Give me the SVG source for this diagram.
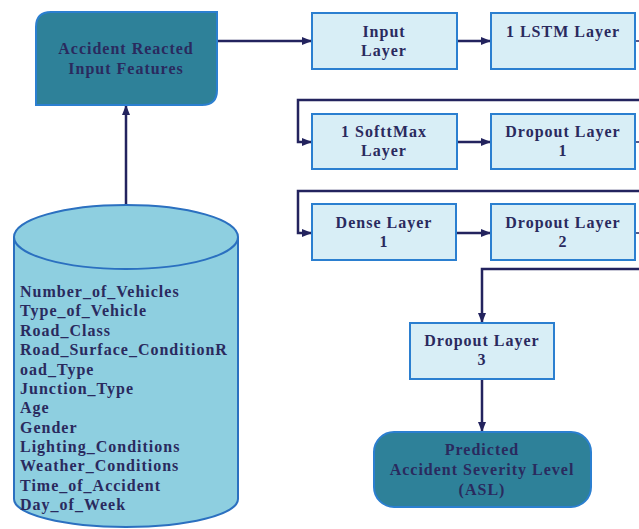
<svg xmlns="http://www.w3.org/2000/svg" width="639" height="529" viewBox="0 0 639 529">
<defs>
<marker id="ah" markerWidth="10" markerHeight="8" refX="9" refY="4" orient="auto" markerUnits="userSpaceOnUse">
<path d="M0,0 L10,4 L0,8 Z" fill="#23235e"/>
</marker>
<style>
.t{font-family:'Liberation Serif','DejaVu Serif',serif;font-weight:bold;font-size:16px;letter-spacing:1px;fill:#2a2a5e;}
.c{text-anchor:middle;}
.layer{fill:#d8eef6;stroke:#2b7fd0;stroke-width:2;}
.dark{fill:#2e8199;stroke:#2b7fd0;stroke-width:2;}
.ln{fill:none;stroke:#23235e;stroke-width:2.5;}
.stub{fill:none;stroke:#23235e;stroke-width:1.5;}
</style>
</defs>
<rect width="639" height="529" fill="#ffffff"/>
<g id="connectors">
<line class="ln" x1="217" y1="41" x2="311" y2="41" marker-end="url(#ah)"/>
<line class="ln" x1="457" y1="41" x2="490" y2="41" marker-end="url(#ah)"/>
<line class="stub" x1="635" y1="41" x2="639" y2="41"/>
<polyline class="ln" points="639,100 298,100 298,142 311,142" marker-end="url(#ah)"/>
<line class="ln" x1="457" y1="142" x2="490" y2="142" marker-end="url(#ah)"/>
<line class="stub" x1="635" y1="142" x2="639" y2="142"/>
<polyline class="ln" points="639,191 298,191 298,233 311,233" marker-end="url(#ah)"/>
<line class="ln" x1="456" y1="233" x2="490" y2="233" marker-end="url(#ah)"/>
<line class="stub" x1="635" y1="233" x2="639" y2="233"/>
<polyline class="ln" points="639,269 482,269 482,322" marker-end="url(#ah)"/>
<line class="ln" x1="482" y1="379" x2="482" y2="431" marker-end="url(#ah)"/>
<line class="ln" x1="126" y1="205" x2="126" y2="106" stroke-width="2" marker-end="url(#ah)"/>
</g>
<g id="features">
<path class="dark" d="M51,12 H217 V90 Q217,105 202,105 H36 V27 Q36,12 51,12 Z"/>
<text class="t c" x="126" y="54">Accident Reacted</text>
<text class="t c" x="126" y="74">Input Features</text>
</g>
<g id="database">
<path d="M14,237 V499 A112,28 0 0 0 238,499 V237" fill="#8ecfe0" stroke="#2b70c0" stroke-width="2"/>
<ellipse cx="126" cy="237" rx="112" ry="32" fill="#8ecfe0" stroke="#2b70c0" stroke-width="2"/>
<g class="t">
<text x="20" y="297">Number_of_Vehicles</text>
<text x="20" y="316">Type_of_Vehicle</text>
<text x="20" y="336">Road_Class</text>
<text x="20" y="355">Road_Surface_ConditionR</text>
<text x="20" y="375">oad_Type</text>
<text x="20" y="394">Junction_Type</text>
<text x="20" y="413">Age</text>
<text x="20" y="433">Gender</text>
<text x="20" y="452">Lighting_Conditions</text>
<text x="20" y="471">Weather_Conditions</text>
<text x="20" y="491">Time_of_Accident</text>
<text x="20" y="510">Day_of_Week</text>
</g>
</g>
<g id="input-layer">
<rect class="layer" x="312" y="13" width="145" height="56"/>
<text class="t c" x="384" y="37">Input</text>
<text class="t c" x="384" y="56">Layer</text>
</g>
<g id="lstm-layer">
<rect class="layer" x="491" y="13" width="144" height="56"/>
<text class="t c" x="563" y="37">1 LSTM Layer</text>
</g>
<g id="softmax-layer">
<rect class="layer" x="312" y="114" width="145" height="55"/>
<text class="t c" x="384" y="137">1 SofttMax</text>
<text class="t c" x="384" y="156">Layer</text>
</g>
<g id="dropout1">
<rect class="layer" x="491" y="114" width="144" height="55"/>
<text class="t c" x="563" y="137">Dropout Layer</text>
<text class="t c" x="563" y="156">1</text>
</g>
<g id="dense1">
<rect class="layer" x="312" y="204" width="144" height="56"/>
<text class="t c" x="384" y="228">Dense Layer</text>
<text class="t c" x="384" y="247">1</text>
</g>
<g id="dropout2">
<rect class="layer" x="491" y="204" width="144" height="56"/>
<text class="t c" x="563" y="228">Dropout Layer</text>
<text class="t c" x="563" y="247">2</text>
</g>
<g id="dropout3">
<rect class="layer" x="410" y="323" width="144" height="56"/>
<text class="t c" x="482" y="346">Dropout Layer</text>
<text class="t c" x="482" y="365">3</text>
</g>
<g id="predicted">
<rect class="dark" x="374" y="432" width="217" height="75" rx="20" ry="20"/>
<text class="t c" x="482" y="455">Predicted</text>
<text class="t c" x="482" y="475">Accident Severity Level</text>
<text class="t c" x="482" y="495">(ASL)</text>
</g>
</svg>
